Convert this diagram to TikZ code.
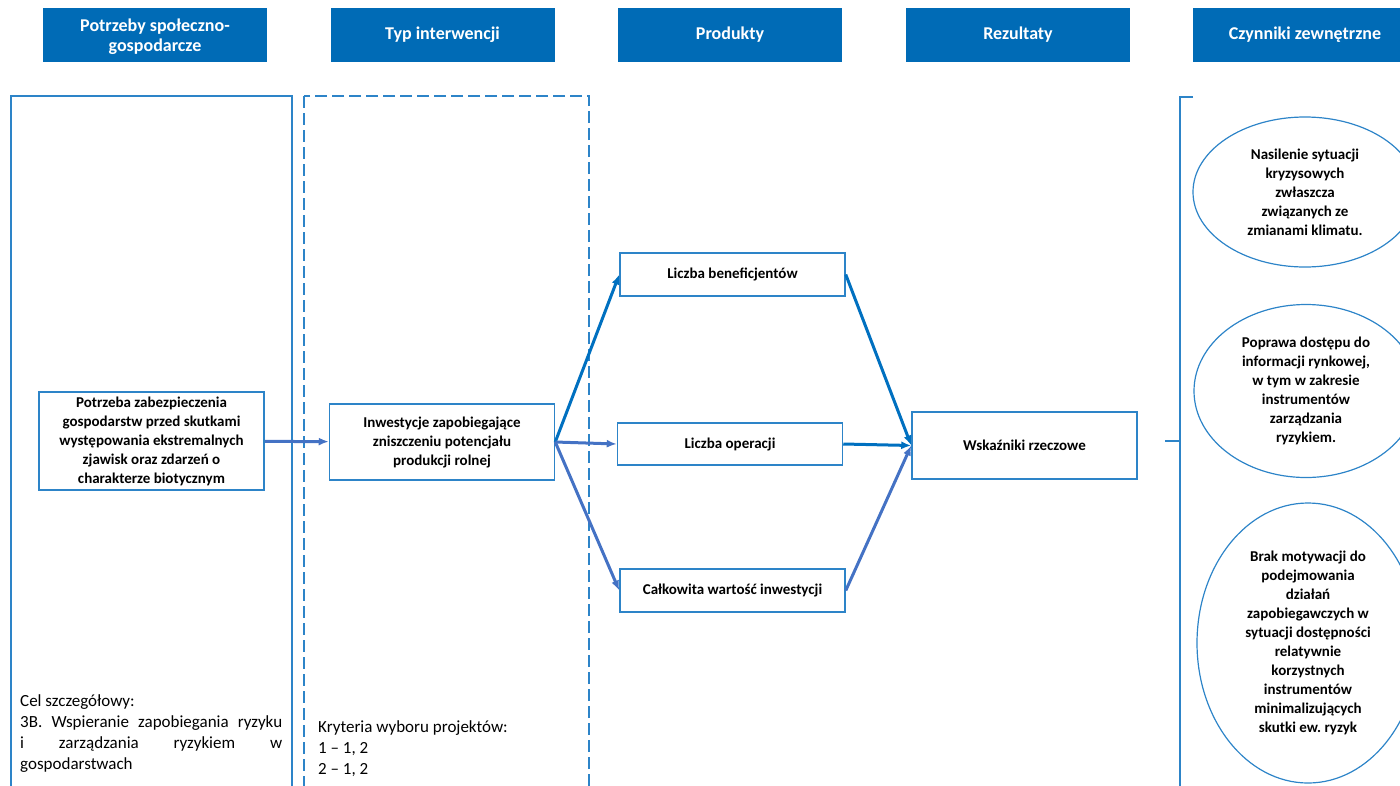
\documentclass[tikz,border=0pt]{standalone}
\usepackage{fontspec}
\setmainfont{Carlito}
\usetikzlibrary{arrows.meta,shapes.geometric}
\frenchspacing

\definecolor{headblue}{RGB}{0,107,182}
\definecolor{frameblue}{RGB}{45,132,200}
\definecolor{darkarrow}{RGB}{0,112,192}
\definecolor{lightarrow}{RGB}{68,114,196}

\tikzset{
	header/.style={fill=headblue,text=white,font=\fontsize{18}{20}\selectfont\bfseries,minimum width=224pt,minimum height=54pt,inner sep=0pt,align=center},
	stepbox/.style={draw=frameblue,line width=1.5pt,font=\fontsize{15}{19}\selectfont\bfseries,minimum width=225pt,inner sep=0pt,align=center},
	factor/.style={ellipse,draw=frameblue,line width=1.2pt,font=\fontsize{15}{19}\selectfont\bfseries,minimum width=224pt,inner sep=0pt,align=center},
	note/.style={anchor=north west,inner sep=0pt,font=\fontsize{17}{21}\selectfont},
	flow/.style={->,line width=3pt}
}

\begin{document}
\begin{tikzpicture}[x=1pt,y=-1pt,>={Latex[length=10pt,width=8pt]}]
		\useasboundingbox (0,0) rectangle (1400,785);
		\clip (0,0) rectangle (1400,785);
		% Column headers
		\node[header] (Needs) at (155,35) {\rule{0pt}{16pt}Potrzeby społeczno-\\gospodarcze};
		\node[header] (Type) at (442.5,35) {Typ interwencji};
		\node[header] (Products) at (730,35) {Produkty};
		\node[header] (Results) at (1018,35) {Rezultaty};
		\node[header] (External) at (1305,35) {Czynniki zewnętrzne};
		
		% Column frames
		\draw[frameblue,line width=1.5pt] (11,96) rectangle (292,800);
		\draw[frameblue,line width=1.5pt,dash pattern=on 12pt off 5pt] (304,96) rectangle (589,800);
		\draw[frameblue,line width=1.5pt] (1193,97) -- (1180,97) -- (1180,800);
		\draw[frameblue,line width=1.5pt] (1165,441) -- (1180,441);
		
		% Boxes
		\node[stepbox,minimum height=98pt] (Need) at (151.5,441) {Potrzeba zabezpieczenia\\gospodarstw przed skutkami\\występowania ekstremalnych\\zjawisk oraz zdarzeń o\\charakterze biotycznym};
		\node[stepbox,minimum height=76pt] (Invest) at (442,442) {Inwestycje zapobiegające\\zniszczeniu potencjału\\produkcji rolnej};
		\node[stepbox,minimum height=43pt] (Ben) at (732.5,274.5) {Liczba beneficjentów};
		\node[stepbox,minimum height=42pt] (Ops) at (730,444) {Liczba operacji};
		\node[stepbox,minimum height=43pt] (Total) at (732.5,590.5) {Całkowita wartość inwestycji};
		\node[stepbox,minimum height=67pt] (Result) at (1024.5,445.5) {Wskaźniki rzeczowe};
		
		% External factors
		\node[factor,minimum height=150pt] (Crisis) at (1305,192) {Nasilenie sytuacji\\kryzysowych\\zwłaszcza\\związanych ze\\zmianami klimatu.};
		\node[factor,minimum height=173pt] (Market) at (1306,391) {Poprawa dostępu do\\informacji rynkowej,\\w tym w zakresie\\instrumentów\\zarządzania\\ryzykiem.};
		\node[factor,minimum width=222pt,minimum height=280pt] (Motive) at (1308,643) {Brak motywacji do\\podejmowania\\działań\\zapobiegawczych w\\sytuacji dostępności\\relatywnie\\korzystnych\\instrumentów\\minimalizujących\\skutki ew. ryzyk};
		
		\draw[flow,lightarrow] (Need) to (Invest);
		\draw[flow,darkarrow] (Invest.east) to (Ben.west);
		\draw[flow,lightarrow] (Invest.east) to (Ops.west);
		\draw[flow,lightarrow] (Invest.east) to (Total.west);
		\draw[flow,darkarrow] (Ben.east) to (Result.west);
		\draw[flow,darkarrow] (Ops.east) to (Result.west);
		\draw[flow,lightarrow] (Total.east) to (Result.west);
		
		% Notes
		\node[note,text width=262pt,align=justify] (Goal) at (20,694) {Cel szczegółowy:\\3B. Wspieranie zapobiegania ryzyku\linebreak i zarządzania ryzykiem w\linebreak gospodarstwach};
		\node[note,align=left] (Criteria) at (318,720) {Kryteria wyboru projektów:\\1 – 1, 2\\2 – 1, 2};
		
		\end{tikzpicture}
\end{document}
